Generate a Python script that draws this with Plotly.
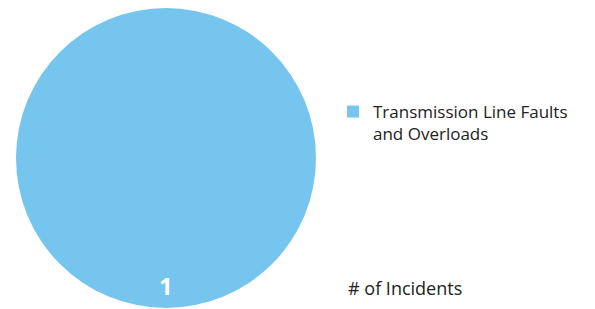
import plotly.graph_objects as go

categories = ["Transmission Line Faults and Overloads"]
legend_labels = ["Transmission Line Faults<br>and Overloads"]
values = [1]
title_text = "# of Incidents"

W, H = 595, 309
cx, cy, r = 166, 158, 150

fig = go.Figure(go.Pie(
    labels=legend_labels,
    values=values,
    marker=dict(colors=["#75C5EE"], line=dict(width=0)),
    textinfo="none",
    sort=False,
    hoverinfo="label+value",
    domain=dict(x=[(cx - r) / W, (cx + r) / W], y=[1 - (cy + r) / H, 1 - (cy - r) / H]),
))

fig.add_annotation(
    x=cx / W, y=1 - 285 / H, xref="paper", yref="paper", xanchor="center", yanchor="middle",
    text="<b>%d</b>" % values[0], showarrow=False,
    font=dict(family="Open Sans", size=24, color="white"),
)
fig.add_annotation(
    x=346 / W, y=1 - 288 / H, xref="paper", yref="paper", xanchor="left", yanchor="middle",
    text=title_text, showarrow=False,
    font=dict(family="Open Sans", size=18, color="#222222"),
)

fig.update_layout(
    width=W, height=H,
    margin=dict(l=0, r=0, t=0, b=0),
    paper_bgcolor="white", plot_bgcolor="white",
    showlegend=True,
    legend=dict(x=333 / W, y=1 - 94 / H, xanchor="left", yanchor="top", valign="top",
                font=dict(family="Open Sans", size=17, color="#222222"),
                bgcolor="rgba(0,0,0,0)"),
)

fig.write_html("out.html", config={"displayModeBar": False},
               post_script="document.body.style.margin='0';")
